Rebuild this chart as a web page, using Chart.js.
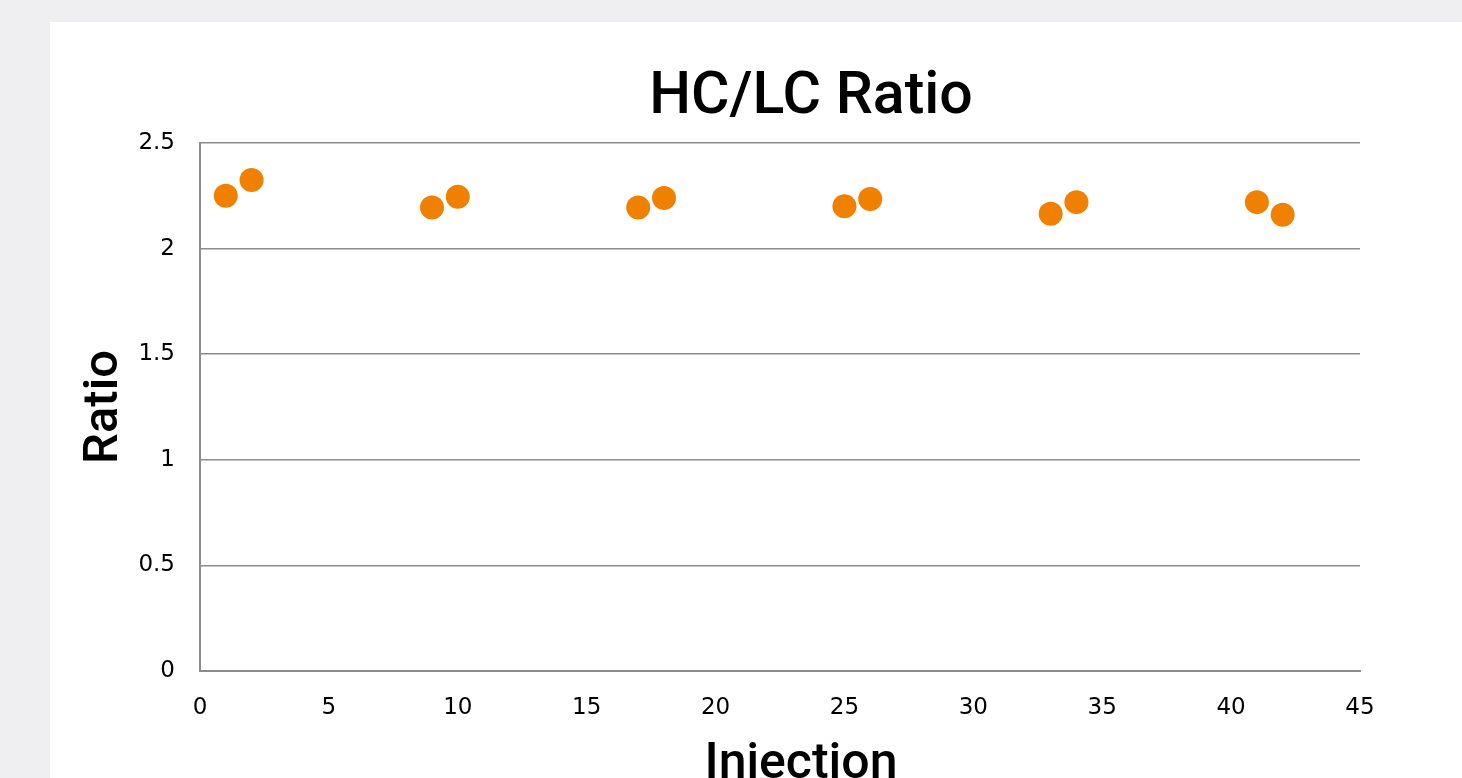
<!DOCTYPE html>
<html>
<head>
<meta charset="utf-8">
<script src="https://cdn.jsdelivr.net/npm/chart.js@4"></script>
<style>
    html, body {
        margin: 0;
        padding: 0;
        background: #efeff1;
        overflow: hidden;
    }
    #panel {
        position: absolute;
        left: 50px;
        top: 22px;
        width: 1412px;
        height: 756px;
        background: #ffffff;
    }
</style>
</head>
<body>
<div id="panel">
    <canvas id="ratioChart" width="1412" height="756"></canvas>
</div>
<script>
// Data
const injections = [1, 2, 9, 10, 17, 18, 25, 26, 33, 34, 41, 42];
const ratios = [2.25, 2.325, 2.195, 2.245, 2.195, 2.24, 2.2, 2.235, 2.165, 2.22, 2.22, 2.16];
const xTicks = [0, 5, 10, 15, 20, 25, 30, 35, 40, 45];
const yTicks = [0, 0.5, 1, 1.5, 2, 2.5];

const chartTitle = 'HC/LC Ratio';
const xTitle = 'Injection';
const yTitle = 'Ratio';

const tickFont = { family: '"DejaVu Sans", sans-serif', size: 23 };
const titleFamily = 'Roboto, "Liberation Sans", sans-serif';

const points = injections.map((x, i) => ({ x: x, y: ratios[i] }));

// Chart title and x title sit a bit right of the plot centre in the original,
// so draw those two ourselves
const pageText = {
    id: 'pageText',
    afterDraw(chart) {
        const c = chart.ctx;
        const area = chart.chartArea;
        const mid = (area.left + area.right) / 2;
        c.save();
        c.fillStyle = '#000000';
        c.textAlign = 'center';
        c.textBaseline = 'alphabetic';
        c.font = '500 59px ' + titleFamily;
        c.fillText(chartTitle, mid + 31, area.top - 30);
        c.font = '500 50px ' + titleFamily;
        c.fillText(xTitle, mid + 21, chart.height);
        c.restore();
    }
};

const ctx = document.querySelector('#ratioChart').getContext('2d');

new Chart(ctx, {
    type: 'scatter',
    data: {
        datasets: [{
            label: chartTitle,
            data: points,
            backgroundColor: '#f08000',
            borderWidth: 0,
            pointRadius: 12,
            pointHoverRadius: 12
        }]
    },
    plugins: [pageText],
    options: {
        responsive: false,
        animation: false,
        layout: {
            padding: { left: 0, right: 102, top: 121, bottom: 0 }
        },
        plugins: {
            legend: { display: false },
            tooltip: { enabled: false },
            title: { display: false }
        },
        scales: {
            x: {
                type: 'linear',
                min: xTicks[0],
                max: xTicks[xTicks.length - 1],
                afterBuildTicks: scale => {
                    scale.ticks = xTicks.map(v => ({ value: v }));
                },
                afterFit: scale => {
                    scale.height = 107;
                },
                grid: { display: false, drawTicks: false },
                border: { display: true, color: '#8c8c8c', width: 2 },
                ticks: {
                    color: '#000000',
                    font: tickFont,
                    padding: 23,
                    maxRotation: 0,
                    callback: v => String(v)
                }
            },
            y: {
                type: 'linear',
                min: yTicks[0],
                max: yTicks[yTicks.length - 1],
                afterBuildTicks: scale => {
                    scale.ticks = yTicks.map(v => ({ value: v }));
                },
                afterFit: scale => {
                    scale.width = 150;
                },
                grid: { color: '#8c8c8c', lineWidth: 1.5, drawTicks: false },
                border: { display: true, color: '#8c8c8c', width: 2 },
                ticks: {
                    color: '#000000',
                    font: tickFont,
                    padding: 25,
                    callback: v => String(v)
                },
                title: {
                    display: true,
                    text: yTitle,
                    color: '#000000',
                    font: { family: titleFamily, size: 49, weight: 500 },
                    padding: { top: 25, bottom: 0 }
                }
            }
        }
    }
});
</script>
</body>
</html>
